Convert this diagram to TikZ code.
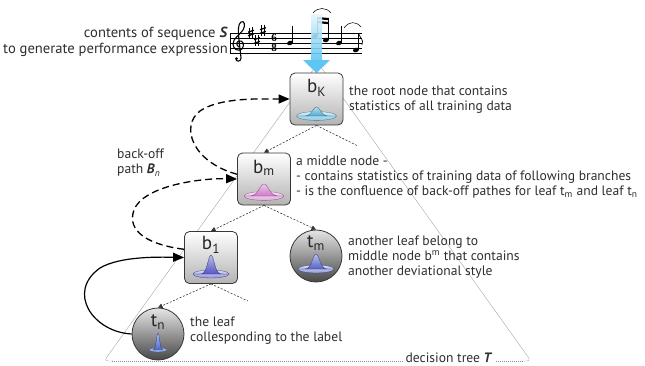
\documentclass[tikz,border=0pt]{standalone}
\usepackage{fontspec}
\setmainfont{PT Sans}
\newfontfamily\numfont{Liberation Serif}
\usetikzlibrary{arrows.meta}

\definecolor{txtgray}{HTML}{2E2E2E}
\definecolor{arrowblue}{HTML}{5EC6F2}
\definecolor{gaussK}{HTML}{4FA9D2}
\definecolor{gaussM}{HTML}{CF78C9}
\definecolor{gaussOne}{HTML}{5656C6}
\definecolor{gaussTm}{HTML}{5463C4}
\definecolor{gaussTn}{HTML}{4868CF}

% a Gaussian bell standing on a flat disk: centre, half width, sigma, height, colour
\newcommand{\gbell}[5]{%
  \begin{scope}[shift={(#1)}]
    \shade[top color=#5!20, bottom color=#5!65, draw=#5!70!black, line width=0.3pt]
      (0,0) ellipse ({#2} and {0.22*#2});
    \shade[top color=#5!40, bottom color=#5, draw=#5!60!black, line width=0.3pt]
      plot[domain=-#2:#2, samples=61, smooth] (\x,{-#4*exp(-((\x)/#3)^2)}) -- cycle;
  \end{scope}}

\tikzset{
  statbox/.style={draw=black!78, line width=0.8pt, rounded corners=5pt,
    top color=white, bottom color=black!30, minimum width=53pt, minimum height=52pt, inner sep=0pt},
  leafnode/.style={circle, draw=black!78, line width=0.8pt,
    top color=black!10, bottom color=black!72, minimum size=52pt, inner sep=0pt},
  nodelabel/.style={font=\fontsize{19}{20}\selectfont, text=black!85, inner sep=0pt},
  note/.style={font=\fontsize{13.6}{15}\selectfont, text=txtgray, align=left, inner sep=0pt},
  treeedge/.style={line width=0.6pt, black!80, dash pattern=on 2pt off 1.6pt},
  treeedgetip/.style={treeedge, -{Triangle[length=4.5pt,width=4.5pt]}},
  backoff/.style={line width=1.3pt, black, dash pattern=on 7pt off 4pt,
    -{Triangle[length=11pt,width=9pt]}},
  solidpath/.style={line width=1.2pt, black, -{Triangle[length=11pt,width=9pt]}},
  treeline/.style={line width=0.4pt, black!35},
  staffline/.style={line width=0.6pt, black},
  musharp/.pic={
    \draw[line width=0.5pt] (-1.3,-5.5) -- (-1.3,5.8);
    \draw[line width=0.5pt] (1.3,-5.8) -- (1.3,5.5);
    \draw[line width=1.3pt] (-2.9,-0.8) -- (2.9,-2.8);
    \draw[line width=1.3pt] (-2.9,2.8) -- (2.9,0.8);
  },
}

\begin{document}
\begin{tikzpicture}[x=1pt,y=-1pt]
\useasboundingbox (0,0) rectangle (645,365);

% decision tree outline
\draw[treeline, rounded corners=4pt] (318,63) -- (104,361) -- (114,361);
\draw[treeline, rounded corners=4pt] (318,63) -- (531,361) -- (521,361);
\draw[line width=0.5pt, black!45, dash pattern=on 1pt off 1pt] (112,361) -- (523,361);
\node[note, fill=white, inner xsep=3pt, inner ysep=2pt] (treelabel) at (449,357.5) {decision tree \textbf{\textit{T}}};

% header text
\node[font=\fontsize{14.6}{16.2}\selectfont, text=txtgray, align=right, anchor=east, inner sep=0pt] (seqtext) at (228,42)
  {contents of sequence \textbf{\textit{S}}\\to generate performance expression};

% staff
\foreach \yy in {33,38,43,48,53} \draw[staffline] (230,\yy) -- (362,\yy);
\draw[line width=1pt] (230,33) -- (230,53);
% treble clef
\draw[line width=1.1pt, line cap=round]
  (239,47) .. controls (236,45) and (236,42) .. (239,41)
  .. controls (243,40) and (245,45) .. (242,49)
  .. controls (238,52) and (233,49) .. (233,44)
  .. controls (233,38) and (240,35) .. (243,30)
  .. controls (246,25) and (244,20) .. (241,22)
  .. controls (238,24) and (238,30) .. (239,40)
  -- (241,58) .. controls (241,62) and (236,62) .. (236,59);
\fill (236.5,58.5) circle (1.5);
% key signature
\pic at (251,33) {musharp};
\pic at (257,40.5) {musharp};
\pic at (263,30.5) {musharp};
% time signature
\node[font=\numfont\bfseries\fontsize{11}{11}\selectfont, inner sep=0pt] (timesix) at (274,38) {6};
\node[font=\numfont\bfseries\fontsize{11}{11}\selectfont, inner sep=0pt] (timeeight) at (274,48.3) {8};
% notes
\fill[rotate around={20:(290,43)}] (290,43) ellipse (3.1 and 2.2);
\draw[line width=0.7pt] (292.8,42) -- (292.8,26);
\fill[rotate around={20:(315,36)}] (315,36) ellipse (3.1 and 2.2);
\fill[rotate around={20:(326,40)}] (326,40) ellipse (3.1 and 2.2);
\draw[line width=0.7pt] (317.8,35) -- (317.8,17);
\draw[line width=0.7pt] (328.8,39) -- (328.8,18);
\fill (317.8,17) -- (328.8,18) -- (328.8,20.2) -- (317.8,19.2) -- cycle;
\fill (317.8,21) -- (328.8,22) -- (328.8,24.2) -- (317.8,23.2) -- cycle;
\draw[line width=0.5pt] (313,13) .. controls (318,7) and (326,7) .. (331,13);
\fill[rotate around={20:(339,43)}] (339,43) ellipse (3.1 and 2.2);
\draw[line width=0.7pt] (341.8,42) -- (341.8,26);
\draw[line width=0.5pt] (344,28) .. controls (349,21) and (356,21) .. (361,27);
\fill[rotate around={20:(356,50)}] (356,50) ellipse (3.1 and 2.2);
\draw[line width=0.7pt] (358.8,49) -- (358.8,34);
\draw[line width=0.7pt] (358.8,34) .. controls (360,38) and (364,39) .. (362,45);

% input arrow into the root
\shade[top color=arrowblue!15, bottom color=arrowblue, opacity=0.9] (311,14) rectangle (322,61);
\fill[arrowblue] (303,60) -- (330,60) -- (316.5,73) -- cycle;

% tree nodes
\node[statbox] (bK) at (316.5,99) {};
\node[statbox] (bm) at (264,179) {};
\node[statbox] (b1) at (211,257.5) {};
\node[leafnode] (tm) at (316,256) {};
\node[leafnode] (tn) at (158,334) {};

\node[nodelabel] (bKlab) at (316.5,88) {b\textsubscript{K}};
\node[nodelabel] (bmlab) at (264,168) {b\textsubscript{m}};
\node[nodelabel] (b1lab) at (211,245) {b\textsubscript{1}};
\node[nodelabel] (tmlab) at (316,243) {t\textsubscript{m}};
\node[nodelabel] (tnlab) at (158,322) {t\textsubscript{n}};

\gbell{316.5,116}{20}{5.5}{9}{gaussK}
\gbell{264,196}{20}{6.5}{12}{gaussM}
\gbell{211,274}{18}{4.5}{19}{gaussOne}
\gbell{316,269}{18}{5}{15}{gaussTm}
\gbell{158,350}{9}{2.2}{17}{gaussTn}

% tree edges
\coordinate (bKright) at (358,146);
\coordinate (b1right) at (248,301);
\draw[treeedgetip] (bK.south) -- (bm.north);
\draw[treeedge] (bK.south) -- (bKright);
\draw[treeedgetip] (bm.south) -- (b1.north);
\draw[treeedgetip] (bm.south) -- (tm.north);
\draw[treeedgetip] (b1.south) -- (tn.north);
\draw[treeedge] (b1.south) -- (b1right);

% back-off path
\draw[solidpath] (tn.west) .. controls (93,332) and (66,292) .. (100,268)
  .. controls (120,256) and (160,257) .. (b1.west);
\draw[backoff] (b1.163) .. controls (150,245) and (126,232) .. (134,210)
  .. controls (143,186) and (200,178) .. (bm.west);
\draw[backoff] (bm.170) .. controls (192,162) and (180,126) .. (200,111)
  .. controls (220,97) and (262,99) .. (bK.west);

% annotations
\node[note, anchor=west] (backofflab) at (117,163) {back-off\\path \textbf{\textit{B}}\textsubscript{\textit{n}}};
\node[note, anchor=west] (rootnote) at (349,99.5) {the root node that contains\\statistics of all training data};
\node[note, anchor=west] (midnote) at (296,177) {a middle node -\\ - contains statistics of training data of following branches\\ - is the confluence of back-off pathes for leaf t\textsubscript{m} and leaf t\textsubscript{n}};
\node[note, anchor=west] (tmnote) at (348,257) {another leaf belong to\\middle node b\textsuperscript{m} that contains\\another deviational style};
\node[note, anchor=west] (tnnote) at (190,330.5) {the leaf\\collesponding to the label};

\end{tikzpicture}
\end{document}
